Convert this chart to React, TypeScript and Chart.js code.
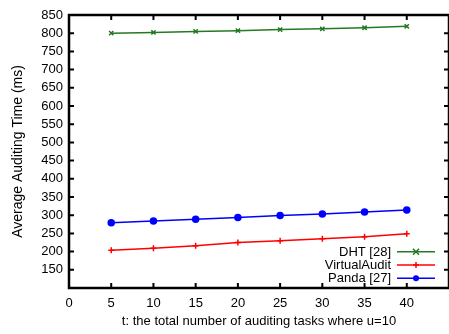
import React, { useEffect, useRef } from 'react';
import { Chart, registerables } from 'chart.js';

Chart.register(...registerables);

const tasks = [5, 10, 15, 20, 25, 30, 35, 40];
const dhtTimes = [800, 802, 805, 807, 810, 812, 815, 819];
const virtualAuditTimes = [204, 209, 216, 225, 230, 235, 241, 249];
const pandaTimes = [279, 284, 289, 294, 299, 303, 309, 314];
const seriesLabels = ['DHT [28]', 'VirtualAudit', 'Panda [27]'];
const seriesColors = ['#237a23', '#ff0000', '#0000ff'];
const seriesMarkers = ['crossRot', 'cross', 'circle'];
const xTitle = 't: the total number of auditing tasks where u=10';
const yTitle = 'Average Auditing Time (ms)';

const FONT = '"Liberation Sans", Arial, Helvetica, sans-serif';

function drawMarker(ctx: CanvasRenderingContext2D, style: string, x: number, y: number, r: number, color: string) {
  ctx.save();
  ctx.strokeStyle = color;
  ctx.fillStyle = color;
  ctx.lineWidth = 1.5;
  ctx.beginPath();
  if (style === 'circle') {
    ctx.arc(x, y, r, 0, Math.PI * 2);
    ctx.fill();
  } else if (style === 'cross') {
    ctx.moveTo(x - r, y); ctx.lineTo(x + r, y);
    ctx.moveTo(x, y - r); ctx.lineTo(x, y + r);
    ctx.stroke();
  } else {
    ctx.moveTo(x - r, y - r); ctx.lineTo(x + r, y + r);
    ctx.moveTo(x - r, y + r); ctx.lineTo(x + r, y - r);
    ctx.stroke();
  }
  ctx.restore();
}

const framePlugin = {
  id: 'gnuFrame',
  afterDraw(chart: any) {
    const { ctx, chartArea } = chart;
    const { left, right, top, bottom } = chartArea;
    const xs = chart.scales.x;
    const ys = chart.scales.y;
    ctx.save();
    ctx.strokeStyle = '#000';
    ctx.lineWidth = 2;
    ctx.beginPath();
    xs.ticks.forEach((t: any) => {
      if (t.value <= xs.min || t.value >= xs.max) return;
      const px = xs.getPixelForValue(t.value);
      ctx.moveTo(px, bottom); ctx.lineTo(px, bottom - 5);
      ctx.moveTo(px, top); ctx.lineTo(px, top + 5);
    });
    ys.ticks.forEach((t: any) => {
      if (t.value <= ys.min || t.value >= ys.max) return;
      const py = ys.getPixelForValue(t.value);
      ctx.moveTo(left, py); ctx.lineTo(left + 5, py);
      ctx.moveTo(right, py); ctx.lineTo(right - 5, py);
    });
    ctx.stroke();
    ctx.lineWidth = 2.5;
    ctx.strokeRect(left, top, right - left, bottom - top);

    // legend
    const ds = chart.data.datasets;
    ctx.font = `13px ${FONT}`;
    ctx.textAlign = 'right';
    ctx.textBaseline = 'middle';
    const lineH = 13.3;
    const ref = 449;
    ds.forEach((d: any, i: number) => {
      const y = bottom - 9.7 - (ds.length - 1 - i) * lineH;
      ctx.fillStyle = '#000';
      ctx.fillText(d.label, ref - 58, y + 0.5);
      ctx.strokeStyle = d.borderColor;
      ctx.lineWidth = 1.5;
      ctx.beginPath();
      ctx.moveTo(ref - 52, y);
      ctx.lineTo(ref - 14, y);
      ctx.stroke();
      drawMarker(ctx, d.pointStyle, ref - 33, y, 3, d.borderColor);
    });
    ctx.restore();
  },
};

export default function App() {
  const canvasRef = useRef<HTMLCanvasElement | null>(null);

  useEffect(() => {
    document.body.style.margin = '0';
    const canvas = canvasRef.current;
    if (!canvas) return;
    const seriesValues = [dhtTimes, virtualAuditTimes, pandaTimes];
    const chart = new Chart(canvas, {
      type: 'scatter',
      data: {
        datasets: seriesValues.map((vals, i) => ({
          label: seriesLabels[i],
          data: tasks.map((t, j) => ({ x: t, y: vals[j] })),
          showLine: true,
          borderColor: seriesColors[i],
          backgroundColor: seriesColors[i],
          borderWidth: 1.5,
          pointStyle: seriesMarkers[i] as any,
          pointRadius: 3,
          pointBorderWidth: 1.5,
          fill: false,
        })),
      },
      options: {
        responsive: false,
        animation: false,
        layout: { autoPadding: false, padding: { top: 15, right: -1, left: 0, bottom: 0 } },
        plugins: {
          legend: { display: false },
          tooltip: { enabled: false },
        },
        scales: {
          x: {
            type: 'linear',
            min: 0,
            max: 45,
            border: { display: false },
            grid: { display: false, drawTicks: false },
            ticks: {
              stepSize: 5,
              autoSkip: false,
              maxRotation: 0,
              padding: 8,
              color: '#000',
              font: { family: FONT, size: 13 },
              callback: (v: any) => (v >= 45 ? '' : String(v)),
            },
            title: {
              display: true,
              text: xTitle,
              color: '#000',
              font: { family: FONT, size: 13 },
              padding: { top: 0, bottom: 5 },
            },
            afterFit: (s: any) => { s.height = 46; s.paddingLeft = 0; s.paddingRight = 0; },
          },
          y: {
            type: 'linear',
            min: 100,
            max: 850,
            border: { display: false },
            grid: { display: false, drawTicks: false },
            ticks: {
              stepSize: 50,
              autoSkip: false,
              padding: 6,
              color: '#000',
              font: { family: FONT, size: 13 },
              callback: (v: any) => (v <= 100 ? '' : String(v)),
            },
            title: {
              display: true,
              text: yTitle,
              color: '#000',
              font: { family: FONT, size: 14 },
              padding: { top: 10, bottom: 0 },
            },
            afterFit: (s: any) => { s.width = 69; s.paddingTop = 0; s.paddingBottom = 0; },
          },
        },
      },
      plugins: [framePlugin],
    });
    return () => chart.destroy();
  }, []);

  return (
    <div style={{ width: 449, height: 334 }}>
      <canvas ref={canvasRef} width={449} height={334} style={{ display: 'block' }} />
    </div>
  );
}
